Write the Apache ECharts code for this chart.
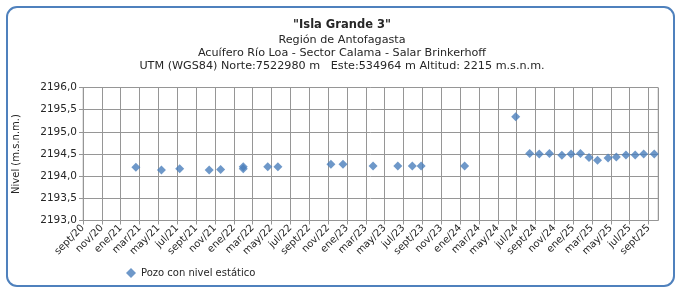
<!DOCTYPE html>
<html>
<head>
<meta charset="utf-8">
<script src="https://cdn.jsdelivr.net/npm/echarts@6/dist/echarts.min.js"></script>
<style>
html,body{margin:0;padding:0;background:#fff;}
#chart{width:684px;height:296px;}
</style>
</head>
<body>
<div id="chart"></div>
<script>
const titleMain = '"Isla Grande 3"';
const subtitleLines = [
  'Región de Antofagasta',
  'Acuífero Río Loa - Sector Calama - Salar Brinkerhoff',
  'UTM (WGS84) Norte:7522980 m   Este:534964 m Altitud: 2215 m.s.n.m.'
];
const yAxisTitle = 'Nivel (m.s.n.m.)';
const seriesName = 'Pozo con nivel estático';

const tickLabels = [
  'sept/20','nov/20','ene/21','mar/21','may/21','jul/21','sept/21','nov/21',
  'ene/22','mar/22','may/22','jul/22','sept/22','nov/22','ene/23','mar/23',
  'may/23','jul/23','sept/23','nov/23','ene/24','mar/24','may/24','jul/24',
  'sept/24','nov/24','ene/25','mar/25','may/25','jul/25','sept/25'
];

const dates = [
  '2021-02-18','2021-05-11','2021-07-09','2021-10-13','2021-11-19',
  '2022-02-01','2022-02-01','2022-04-19','2022-05-22','2022-11-10',
  '2022-12-19','2023-03-25','2023-06-13','2023-07-30','2023-08-28',
  '2024-01-16','2024-06-28','2024-08-13','2024-09-13','2024-10-16',
  '2024-11-25','2024-12-25','2025-01-25','2025-02-20','2025-03-19',
  '2025-04-22','2025-05-19','2025-06-19','2025-07-19','2025-08-16',
  '2025-09-19'
];
const levels = [
  2194.20, 2194.14, 2194.17, 2194.14, 2194.15,
  2194.21, 2194.17, 2194.21, 2194.21, 2194.27,
  2194.27, 2194.23, 2194.23, 2194.23, 2194.23,
  2194.23, 2195.34, 2194.51, 2194.50, 2194.51,
  2194.47, 2194.50, 2194.51, 2194.42, 2194.36,
  2194.41, 2194.43, 2194.48, 2194.48, 2194.50,
  2194.50
];

// month index since 1 Sep 2020
function monthIndex(s) {
  const p = s.split('-').map(Number);
  const dim = new Date(p[0], p[1], 0).getDate();
  return (p[0] - 2020) * 12 + (p[1] - 9) + (p[2] - 1) / dim;
}
const points = dates.map((d, i) => [monthIndex(d), levels[i]]);

const FONT = 'DejaVu Sans';
const TXT = '#262626';
const GRID = '#969696';

const chart = echarts.init(document.getElementById('chart'), null, {renderer: 'canvas'});
chart.setOption({
  backgroundColor: '#fff',
  animation: false,
  graphic: [{
    type: 'rect',
    shape: {x: 7, y: 7, width: 667, height: 279, r: 10},
    style: {fill: 'none', stroke: '#4f81bd', lineWidth: 2},
    silent: true
  }],
  title: [{
    text: titleMain,
    left: 'center',
    top: 18,
    padding: 0,
    textStyle: {fontFamily: FONT, fontSize: 11.5, fontWeight: 'bold', color: TXT, lineHeight: 14}
  }, {
    text: subtitleLines.join('\n'),
    left: 'center',
    top: 34,
    padding: 0,
    textStyle: {fontFamily: FONT, fontSize: 11.2, fontWeight: 'normal', color: TXT, lineHeight: 13}
  }],
  legend: {
    left: 126,
    top: 268,
    padding: 0,
    icon: 'diamond',
    itemWidth: 10,
    itemHeight: 10,
    itemGap: 10,
    textStyle: {fontFamily: FONT, fontSize: 10, color: TXT},
    data: [seriesName]
  },
  grid: {left: 83, right: 26, top: 87.5, bottom: 75.5, containLabel: false,
         show: true, borderColor: '#c8c8c8', borderWidth: 1},
  xAxis: {
    type: 'value',
    min: 0,
    max: 61,
    interval: 2,
    axisLine: {show: true, lineStyle: {color: GRID}},
    axisTick: {show: true, length: 4, lineStyle: {color: GRID}},
    splitLine: {show: true, lineStyle: {color: GRID, width: 1}},
    axisLabel: {
      rotate: 45,
      margin: 6,
      showMaxLabel: false,
      fontFamily: FONT,
      fontSize: 10,
      color: TXT,
      formatter: function (v) {
        const k = Math.round(v);
        if (Math.abs(v - k) > 1e-6 || k % 2 !== 0) return '';
        return tickLabels[k / 2] || '';
      }
    }
  },
  yAxis: {
    type: 'value',
    min: 2193,
    max: 2196,
    interval: 0.5,
    name: yAxisTitle,
    nameLocation: 'middle',
    nameGap: 62,
    nameTextStyle: {fontFamily: FONT, fontSize: 10, color: TXT},
    axisLine: {show: true, lineStyle: {color: GRID}},
    axisTick: {show: true, length: 4, lineStyle: {color: GRID}},
    splitLine: {show: true, lineStyle: {color: GRID, width: 1}},
    axisLabel: {
      margin: 6,
      fontFamily: FONT,
      fontSize: 10.5,
      color: TXT,
      formatter: function (v) { return v.toFixed(1).replace('.', ','); }
    }
  },
  series: [{
    name: seriesName,
    type: 'scatter',
    symbol: 'diamond',
    symbolSize: 9,
    itemStyle: {color: '#4a7ebb'},
    data: points
  }]
});
</script>
</body>
</html>
